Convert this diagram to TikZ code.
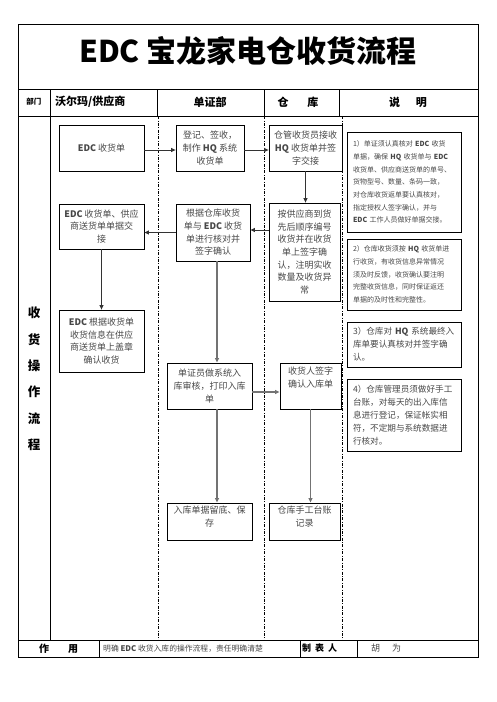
\documentclass[tikz,border=0pt]{standalone}
\usepackage{fontspec}
\setmainfont{Noto Sans CJK SC}
\usetikzlibrary{arrows.meta}
\begin{document}
\begin{tikzpicture}[x=1pt,y=-1pt]
\tikzset{
  frame/.style={line width=0.8pt},
  lane/.style={line width=0.6pt, dash pattern=on 3pt off 1.5pt on 0.8pt off 1.5pt},
  box/.style={draw, line width=0.8pt, inner sep=0pt, align=center, text=black!72, font=\fontsize{9}{12.7}\selectfont},
  note/.style={draw, line width=0.8pt, inner xsep=6pt, inner ysep=0pt, align=left, text width=102pt, text=black!72},
  smallnote/.style={note, font=\fontsize{7}{12.7}\selectfont},
  bignote/.style={note, font=\fontsize{8.6}{13}\selectfont},
  flow/.style={-{Triangle[length=4.5pt,width=4pt]}, line width=0.9pt, draw=black!80},
  flowg/.style={-{Triangle[length=4.5pt,width=4pt]}, line width=1.5pt, draw=black!55},
  head/.style={font=\fontsize{11}{13}\selectfont\bfseries},
}
\useasboundingbox (0,0) rectangle (496,702);
% frame
\draw[frame] (18,24) rectangle (478,657);
\draw[frame] (18,89) -- (478,89);
\draw[frame] (18,116) -- (478,116);
\draw[frame] (18,640) -- (478,640);
\draw[frame] (50,89) -- (50,640);
\draw[frame] (157,89) -- (157,116);
\draw[frame] (264,89) -- (264,116);
\draw[frame] (339,89) -- (339,116);
\draw[frame] (99,640) -- (99,657);
\draw[frame] (300,640) -- (300,657);
\draw[frame] (357,640) -- (357,657);
% lanes
\draw[lane] (158,116) -- (158,640);
\draw[lane] (264,116) -- (264,640);
\draw[lane] (342,116) -- (342,640);
% title
\node[font=\fontsize{30}{33}\selectfont\bfseries] (title) at (248,51) {EDC 宝龙家电仓收货流程};
% header
\node[font=\fontsize{7.5}{9}\selectfont\bfseries] (hdept) at (34,102) {部门};
\node[head, anchor=west, inner sep=0pt] (hsup) at (55,102) {沃尔玛/供应商};
\node[head] (hdoc) at (210,102) {单证部};
\node[head] (hwh) at (298,102) {仓\hspace{19pt}库};
\node[head] (hdesc) at (408,102) {说\hspace{16pt}明};
% left column
\node[font=\fontsize{12.5}{26.4}\selectfont\bfseries, align=center] (side) at (34,379) {收\\货\\操\\作\\流\\程};
% boxes
\node[box, minimum width=85pt, minimum height=46pt] (a) at (101.5,148) {\textbf{EDC} 收货单};
\node[box, minimum width=68pt, minimum height=46pt] (b) at (210,148) {登记、签收，\\制作 \textbf{HQ} 系统\\收货单};
\node[box, minimum width=73pt, minimum height=46pt] (c) at (305.5,148) {仓管收货员接收\\\textbf{HQ} 收货单并签\\字交接};
\node[box, minimum width=71pt, minimum height=98pt] (d) at (304.5,252) {按供应商到货\\先后顺序编号\\收货并在收货\\单上签字确\\认，注明实收\\数量及收货异\\常};
\node[box, minimum width=74pt, minimum height=57pt] (e) at (213,232.5) {根据仓库收货\\单与 \textbf{EDC} 收货\\单进行核对并\\签字确认};
\node[box, minimum width=85pt, minimum height=45pt] (f) at (101.5,226.5) {\textbf{EDC} 收货单、供应\\商送货单单据交\\接};
\node[box, minimum width=85pt, minimum height=62pt] (g) at (101.5,341) {\textbf{EDC} 根据收货单\\收货信息在供应\\商送货单上盖章\\确认收货};
\node[box, minimum width=85pt, minimum height=46pt] (h) at (209.5,386) {单证员做系统入\\库审核，打印入库\\单};
\node[box, minimum width=61pt, minimum height=46pt,
  label={[box, draw=none, anchor=north, yshift=-4pt]north:收货人签字\\确认入库单}] (i) at (310.5,386) {};
\node[box, minimum width=85pt, minimum height=37pt,
  label={[box, draw=none, anchor=north, yshift=-3pt]north:入库单据留底、保\\存}] (j) at (209.5,521.5) {};
\node[box, minimum width=71pt, minimum height=37pt,
  label={[box, draw=none, anchor=north, yshift=-3pt]north:仓库手工台账\\记录}] (k) at (304.5,521.5) {};
% notes
\node[smallnote, minimum height=100pt] (n1) at (404,182) {1）单证须认真核对 \textbf{EDC} 收货\\单据，确保 \textbf{HQ} 收货单与 \textbf{EDC}\\收货单、供应商送货单的单号、\\货物型号、数量、条码一致，\\对仓库收货返单要认真核对，\\指定授权人签字确认，并与\\\textbf{EDC} 工作人员做好单据交接。};
\node[smallnote, minimum height=71pt] (n2) at (404,274.5) {2）仓库收货须按 \textbf{HQ} 收货单进\\行收货，有收货信息异常情况\\须及时反馈，收货确认要注明\\完整收货信息，同时保证返还\\单据的及时性和完整性。};
\node[bignote, minimum height=45pt] (n3) at (404,344.5) {3）仓库对 \textbf{HQ} 系统最终入\\库单要认真核对并签字确\\认。};
\node[bignote, minimum height=72pt] (n4) at (404,415) {4）仓库管理员须做好手工\\台账，对每天的出入库信\\息进行登记，保证帐实相\\符，不定期与系统数据进\\行核对。};
% connectors
\draw[flow] ([yshift=-2pt]a.east) -- ([yshift=-2pt]a.east -| b.west);
\draw[flow] ([yshift=-2pt]b.east) -- ([yshift=-2pt]b.east -| c.west);
\draw[flow] (c.south) -- (c.south |- d.north);
\draw[flow] ([yshift=2.5pt]e.east -| d.west) -- ([yshift=2.5pt]e.east);
\draw[flow] (e.west) -- (e.west -| f.east);
\draw[flow] (f.south) -- (f.south |- g.north);
\draw[flowg] ([xshift=4pt]e.south) -- ([xshift=4pt]e.south |- h.north);
\draw[flowg] ([yshift=-6pt]h.east) -- ([yshift=-6pt]h.east -| i.west);
\draw[flowg] ([xshift=7.5pt]h.south) -- ([xshift=7.5pt]h.south |- j.north);
\draw[flowg] (i.south) -- (i.south |- k.north);
% footer
\node[font=\fontsize{10}{12}\selectfont\bfseries] (fuse) at (58.5,648.5) {作\hspace{19pt}用};
\node[anchor=west, inner sep=0pt, text=black!72, font=\fontsize{7.8}{9}\selectfont] (fusetxt) at (103,648.5) {明确 \textbf{EDC} 收货入库的操作流程，责任明确清楚};
\node[anchor=west, inner sep=0pt, font=\fontsize{9}{11}\selectfont\bfseries] (fmaker) at (302,648.5) {制\hspace{4pt}表\hspace{4pt}人};
\node[anchor=west, inner sep=0pt, text=black!72, font=\fontsize{9}{11}\selectfont] (fname) at (371,648.5) {胡\hspace{12pt}为};
\end{tikzpicture}
\end{document}
